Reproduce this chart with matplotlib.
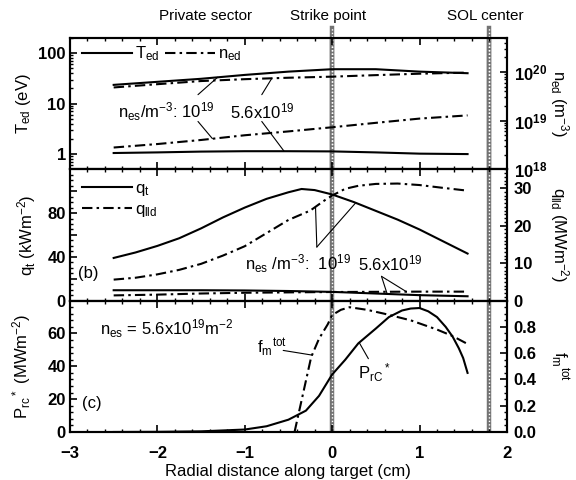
import numpy as np
import matplotlib
matplotlib.use("Agg")
import matplotlib.pyplot as plt
from matplotlib.ticker import FixedLocator, MultipleLocator, FuncFormatter, NullFormatter

plt.rcParams['font.family'] = ['Liberation Sans', 'DejaVu Sans']
plt.rcParams['mathtext.default'] = 'regular'
plt.rcParams['axes.linewidth'] = 1.5

# ---------------------------------------------------------------- data
# panel (a): T_ed (left, eV) and n_ed (right, m^-3) for two n_es values
xa = [-2.5, -2.0, -1.5, -1.0, -0.5, 0.0, 0.5, 1.0, 1.55]
ted_1e19 = [23.5, 27, 31, 37, 43, 48, 48, 43, 40]
ted_56e19 = [1.05, 1.08, 1.12, 1.14, 1.14, 1.13, 1.08, 1.02, 1.0]
ned_1e19 = [2.8e18, 3.3e18, 4.0e18, 5.0e18, 6.0e18, 7.3e18, 9.0e18, 1.1e19, 1.28e19]
ned_56e19 = [4.8e19, 5.6e19, 6.5e19, 7.1e19, 7.6e19, 8.0e19, 8.6e19, 9.2e19, 9.7e19]

# panel (b): q_t (left, kW/m2) and q_lld (right, MW/m2)
xb = [-2.5, -2.25, -2.0, -1.75, -1.5, -1.25, -1.0, -0.75, -0.5, -0.35,
      -0.2, 0.0, 0.25, 0.5, 0.75, 1.0, 1.25, 1.55]
qt_1e19 = [39, 44, 50, 57, 66, 76, 85, 93, 99, 102, 101, 97, 90, 82, 74,
           65, 55, 43]
xb2 = [-2.5, -2.25, -2.0, -1.75, -1.5, -1.25, -1.0, -0.75, -0.5, -0.25,
       -0.1, 0.0, 0.15, 0.3, 0.5, 0.75, 1.0, 1.25, 1.55]
qlld_1e19 = [5.6, 6.1, 7.0, 8.2, 9.8, 12, 14.5, 18, 21.5, 24, 26.5, 28,
             29.8, 30.6, 31.1, 31.2, 30.8, 30.1, 29.3]
qt_56e19 = [9.5, 9.5, 9.5, 9.3, 8.8, 8.0, 6.5, 5.0, 4.0]        # on xa
qlld_56e19 = [1.4, 1.6, 1.9, 2.1, 2.2, 2.3, 2.35, 2.4, 2.4]      # on xa

# panel (c): P_rc* (left, MW/m2) and f_m^tot (right)
xc = [-2.5, -2.0, -1.5, -1.0, -0.75, -0.5, -0.3, -0.15, 0.0, 0.15, 0.3,
      0.5, 0.65, 0.8, 0.9, 1.0, 1.1, 1.2, 1.3, 1.38, 1.45, 1.5, 1.55]
prc = [0, 0.1, 0.4, 1.5, 3.5, 7.5, 13, 22, 35, 44, 54, 63, 70, 74, 75.2,
       75.5, 73.5, 70, 64, 58, 51, 45, 36]
xf = [-0.43, -0.33, -0.24, -0.15, -0.05, 0.0, 0.1, 0.2, 0.4, 0.6, 0.9,
      1.2, 1.38, 1.55]
fm = [0.0, 0.3, 0.57, 0.71, 0.82, 0.89, 0.93, 0.95, 0.93, 0.90, 0.85,
      0.78, 0.73, 0.67]

marker_x = [0.0, 1.8]
marker_names = ["Strike point", "SOL center"]

# ---------------------------------------------------------------- figure
DD = (0, (5, 2, 1.2, 2))  # dash-dot
LW = 1.5
TICKFS = 12

fig, axs = plt.subplots(3, 1, sharex=True, figsize=(5.76, 4.8), dpi=100,
                        gridspec_kw=dict(hspace=0))
fig.subplots_adjust(left=0.1215, right=0.880, top=0.921, bottom=0.10)
ax_a, ax_b, ax_c = axs
tw_a, tw_b, tw_c = [ax.twinx() for ax in axs]


def style(ax, tw):
    ax.tick_params(which='both', direction='in', top=True, right=False,
                   labelsize=TICKFS, pad=3)
    ax.tick_params(which='major', length=5, width=1.2)
    ax.tick_params(which='minor', length=2.5, width=1)
    ax.tick_params(axis='x', pad=10)
    tw.tick_params(which='both', direction='in', labelsize=TICKFS, pad=5)
    tw.tick_params(which='major', length=5, width=1.2)
    tw.tick_params(which='minor', length=2.5, width=1)
    ax.xaxis.set_major_locator(MultipleLocator(1))
    ax.xaxis.set_minor_locator(MultipleLocator(0.2))
    for x in marker_x:
        ax.axvline(x, color='0.45', lw=3.2, zorder=1)
        ax.axvline(x, color='white', lw=1.0, ls=(0, (1, 1.5)), zorder=1.1)


for ax, tw in zip(axs, (tw_a, tw_b, tw_c)):
    style(ax, tw)

ax_c.set_xlim(-3, 2)

# ---- panel (a)
ax_a.set_yscale('log')
tw_a.set_yscale('log')
ax_a.set_ylim(0.5, 200)
tw_a.set_ylim(1e18, 5e20)
h1, = ax_a.plot(xa, ted_1e19, 'k-', lw=LW)
ax_a.plot(xa, ted_56e19, 'k-', lw=LW)
h2, = tw_a.plot(xa, ned_56e19, 'k', ls=DD, lw=LW)
tw_a.plot(xa, ned_1e19, 'k', ls=DD, lw=LW)
ax_a.yaxis.set_major_locator(FixedLocator([1, 10, 100]))
ax_a.yaxis.set_major_formatter(FuncFormatter(lambda v, p: f"{v:g}"))
ax_a.yaxis.set_minor_formatter(NullFormatter())
tw_a.yaxis.set_minor_formatter(NullFormatter())
ax_a.set_ylabel("T$_{ed}$ (eV)", fontsize=12)
tw_a.set_ylabel("n$_{ed}$ (m$^{-3}$)", fontsize=12, rotation=270, va='bottom')
ax_a.legend([h1, h2], ["T$_{ed}$", "n$_{ed}$"], ncol=2, loc='upper left',
            frameon=False, fontsize=12, handlelength=3.0, handletextpad=0.2,
            columnspacing=0.3, borderaxespad=0.0, bbox_to_anchor=(0.012, 1.0))

ax_a.text(0.11, 0.44, "n$_{es}$/m$^{-3}$: 10$^{19}$", transform=ax_a.transAxes,
          fontsize=12, va='center')
ax_a.text(0.366, 0.44, "5.6x10$^{19}$", transform=ax_a.transAxes,
          fontsize=12, va='center')


def pointer(ax_from, start, ax_to, xs, ys, xt):
    yt = np.interp(xt, xs, ys)
    ax_from.annotate("", xy=(xt, yt), xycoords=ax_to.transData,
                     xytext=start, textcoords=ax_from.transAxes,
                     arrowprops=dict(arrowstyle='-', lw=0.8, color='k',
                                     shrinkA=0, shrinkB=0))


pointer(ax_a, (0.293, 0.568), ax_a, xa, ted_1e19, -1.31)
pointer(ax_a, (0.293, 0.364), tw_a, xa, ned_1e19, -1.37)
pointer(ax_a, (0.439, 0.568), tw_a, xa, ned_56e19, -0.69)
pointer(ax_a, (0.439, 0.364), ax_a, xa, ted_56e19, -0.55)

for x, name in zip(marker_x, marker_names):
    ax_a.axvline(x, ymax=1.076, color='0.45', lw=3.2, zorder=1, clip_on=False)
    ax_a.axvline(x, ymax=1.076, color='white', lw=1.0, ls=(0, (1, 1.5)),
                 zorder=1.1, clip_on=False)
    ax_a.text(x - 0.05, 1.17, name, transform=ax_a.get_xaxis_transform(),
              ha='center', va='center', fontsize=11)
ax_a.text(-1.45, 1.17, "Private sector", transform=ax_a.get_xaxis_transform(),
          ha='center', va='center', fontsize=11)

# ---- panel (b)
ax_b.set_ylim(0, 120)
tw_b.set_ylim(0, 35)
g1, = ax_b.plot(xb, qt_1e19, 'k-', lw=LW)
ax_b.plot(xa, qt_56e19, 'k-', lw=LW)
g2, = tw_b.plot(xb2, qlld_1e19, 'k', ls=DD, lw=LW)
tw_b.plot(xa, qlld_56e19, 'k', ls=DD, lw=LW)
ax_b.yaxis.set_major_locator(MultipleLocator(20))
ax_b.yaxis.set_minor_locator(MultipleLocator(5))
ax_b.yaxis.set_major_formatter(FuncFormatter(
    lambda v, p: f"{v:g}" if v in (0, 40, 80) else ""))
tw_b.yaxis.set_major_locator(MultipleLocator(10))
tw_b.yaxis.set_minor_locator(MultipleLocator(1))
tw_b.yaxis.set_major_formatter(FuncFormatter(
    lambda v, p: f"{v:g}" if v < 35 else ""))
ax_b.set_ylabel("q$_t$ (kWm$^{-2}$)", fontsize=12)
tw_b.set_ylabel("q$_{lld}$ (MWm$^{-2}$)", fontsize=12, rotation=270, va='bottom')
ax_b.legend([g1, g2], ["q$_t$", "q$_{lld}$"], loc='upper left', frameon=False,
            fontsize=12, handlelength=3.0, handletextpad=0.2, labelspacing=0.2,
            borderaxespad=0.0, bbox_to_anchor=(0.012, 0.96))
ax_b.text(0.018, 0.21, "(b)", transform=ax_b.transAxes, fontsize=12, va='center')
ax_b.text(0.40, 0.285, "n$_{es}$ /m$^{-3}$:  10$^{19}$", transform=ax_b.transAxes,
          fontsize=12, va='center')
ax_b.text(0.659, 0.285, "5.6x10$^{19}$", transform=ax_b.transAxes,
          fontsize=12, va='center')
pointer(ax_b, (0.565, 0.408), tw_b, xb2, qlld_1e19, -0.19)
pointer(ax_b, (0.565, 0.408), ax_b, xb, qt_1e19, 0.27)
pointer(ax_b, (0.713, 0.185), ax_b, xa, qt_56e19, 0.63)
pointer(ax_b, (0.713, 0.185), tw_b, xa, qlld_56e19, 0.85)

# ---- panel (c)
ax_c.set_ylim(0, 80)
tw_c.set_ylim(0, 1.0)
ax_c.plot(xc, prc, 'k-', lw=LW)
tw_c.plot(xf, fm, 'k', ls=DD, lw=LW)
ax_c.yaxis.set_major_locator(MultipleLocator(20))
ax_c.yaxis.set_minor_locator(MultipleLocator(4))
ax_c.yaxis.set_major_formatter(FuncFormatter(
    lambda v, p: f"{v:g}" if v < 80 else ""))
tw_c.yaxis.set_major_locator(MultipleLocator(0.2))
tw_c.yaxis.set_minor_locator(MultipleLocator(0.05))
tw_c.yaxis.set_major_formatter(FuncFormatter(
    lambda v, p: f"{v:.1f}" if v < 0.95 else ""))
ax_c.set_ylabel("P$_{rc}$$^*$ (MWm$^{-2}$)", fontsize=12)
tw_c.set_ylabel("f$_m$$^{tot}$", fontsize=12, rotation=270, va='bottom')
ax_c.set_xlabel("Radial distance along target (cm)", fontsize=12, labelpad=2.5)
ax_c.text(0.069, 0.79, "n$_{es}$ = 5.6x10$^{19}$m$^{-2}$", transform=ax_c.transAxes,
          fontsize=12, va='center')
ax_c.text(0.027, 0.22, "(c)", transform=ax_c.transAxes, fontsize=12, va='center')
ax_c.text(0.428, 0.644, "f$_m$$^{tot}$", transform=ax_c.transAxes,
          fontsize=12, va='center')
ax_c.text(0.659, 0.455, "P$_{rC}$$^*$", transform=ax_c.transAxes,
          fontsize=12, va='center')
pointer(ax_c, (0.488, 0.621), tw_c, xf, fm, -0.23)
pointer(ax_c, (0.683, 0.558), ax_c, xc, prc, 0.31)

for ax in list(axs) + [tw_a, tw_b, tw_c]:
    for lab in ax.get_xticklabels() + ax.get_yticklabels():
        lab.set_fontweight('bold')
for ax in axs:
    ax.yaxis.set_label_coords(-0.085, 0.5)
ax_b.yaxis.set_label_coords(-0.073, 0.5)
for tw in (tw_a, tw_b, tw_c):
    tw.yaxis.set_label_coords(1.094, 0.5)

fig.savefig("out.png", dpi=100)
